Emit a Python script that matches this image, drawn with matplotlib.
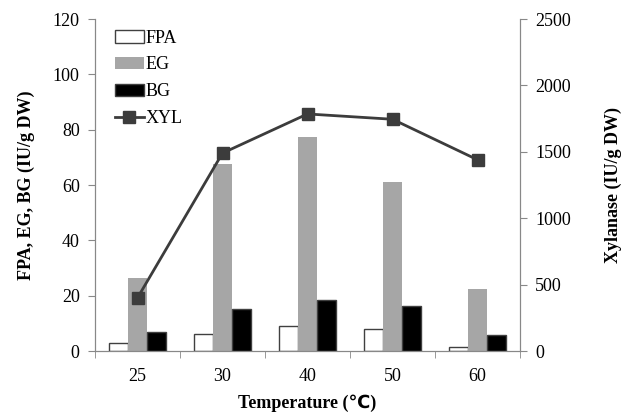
import numpy as np
import matplotlib.pyplot as plt

temps = ['25', '30', '40', '50', '60']
fpa = [2.8, 6.2, 8.9, 8.0, 1.5]
eg = [26.4, 67.6, 77.5, 61.2, 22.3]
bg = [7.0, 15.1, 18.4, 16.4, 5.9]
xyl = [400, 1490, 1785, 1745, 1440]

plt.rcParams['font.family'] = ['Liberation Serif', 'DejaVu Sans', 'Noto Sans CJK SC']
plt.rcParams['font.size'] = 13

fig = plt.figure(figsize=(6.34, 4.17), dpi=100)
ax = fig.add_axes([95 / 634, 1 - 351 / 417, 425 / 634, 332 / 417])
ax2 = ax.twinx()

x = np.arange(len(temps))
w = 0.225
b1 = ax.bar(x - w, fpa, w, color='white', edgecolor='#404040', linewidth=1, label='FPA')
b2 = ax.bar(x, eg, w, color='#a6a6a6', label='EG')
b3 = ax.bar(x + w, bg, w, color='black', edgecolor='#404040', linewidth=1, label='BG')
l1, = ax2.plot(x, xyl, color='#3c3c3c', lw=2, marker='s', ms=9, label='XYL')

ax.set_xlim(-0.5, 4.5)
ax.set_ylim(0, 120)
ax.set_yticks(range(0, 121, 20))
ax2.set_ylim(0, 2500)
ax2.set_yticks(range(0, 2501, 500))

ax.set_xticks(x)
ax.set_xticklabels(temps)
ax.set_xticks(np.arange(-0.5, 4.6, 1), minor=True)
ax.tick_params(axis='x', which='major', length=0, pad=12)
ax.tick_params(axis='x', which='minor', length=5, color='#888888', direction='out')
ax.tick_params(axis='y', length=5, color='#888888', direction='out', pad=6)
ax2.tick_params(axis='y', length=5, color='#888888', direction='out', pad=6)

for a in (ax, ax2):
    a.spines['top'].set_visible(False)
    for s in ('left', 'right', 'bottom'):
        a.spines[s].set_color('#888888')

ax.set_ylabel('FPA, EG, BG (IU/g DW)', fontweight='bold', labelpad=13)
ax2.set_ylabel('Xylanase (IU/g DW)', fontweight='bold', labelpad=24)
ax.set_xlabel('Temperature (℃)', fontweight='bold', labelpad=7)

ax.legend([b1, b2, b3, l1], ['FPA', 'EG', 'BG', 'XYL'], loc='upper left',
          bbox_to_anchor=(0.03, 0.99), frameon=False, handlelength=1.6,
          handletextpad=0.1, labelspacing=0.55, borderaxespad=0)

fig.savefig('out.png', dpi=100)
